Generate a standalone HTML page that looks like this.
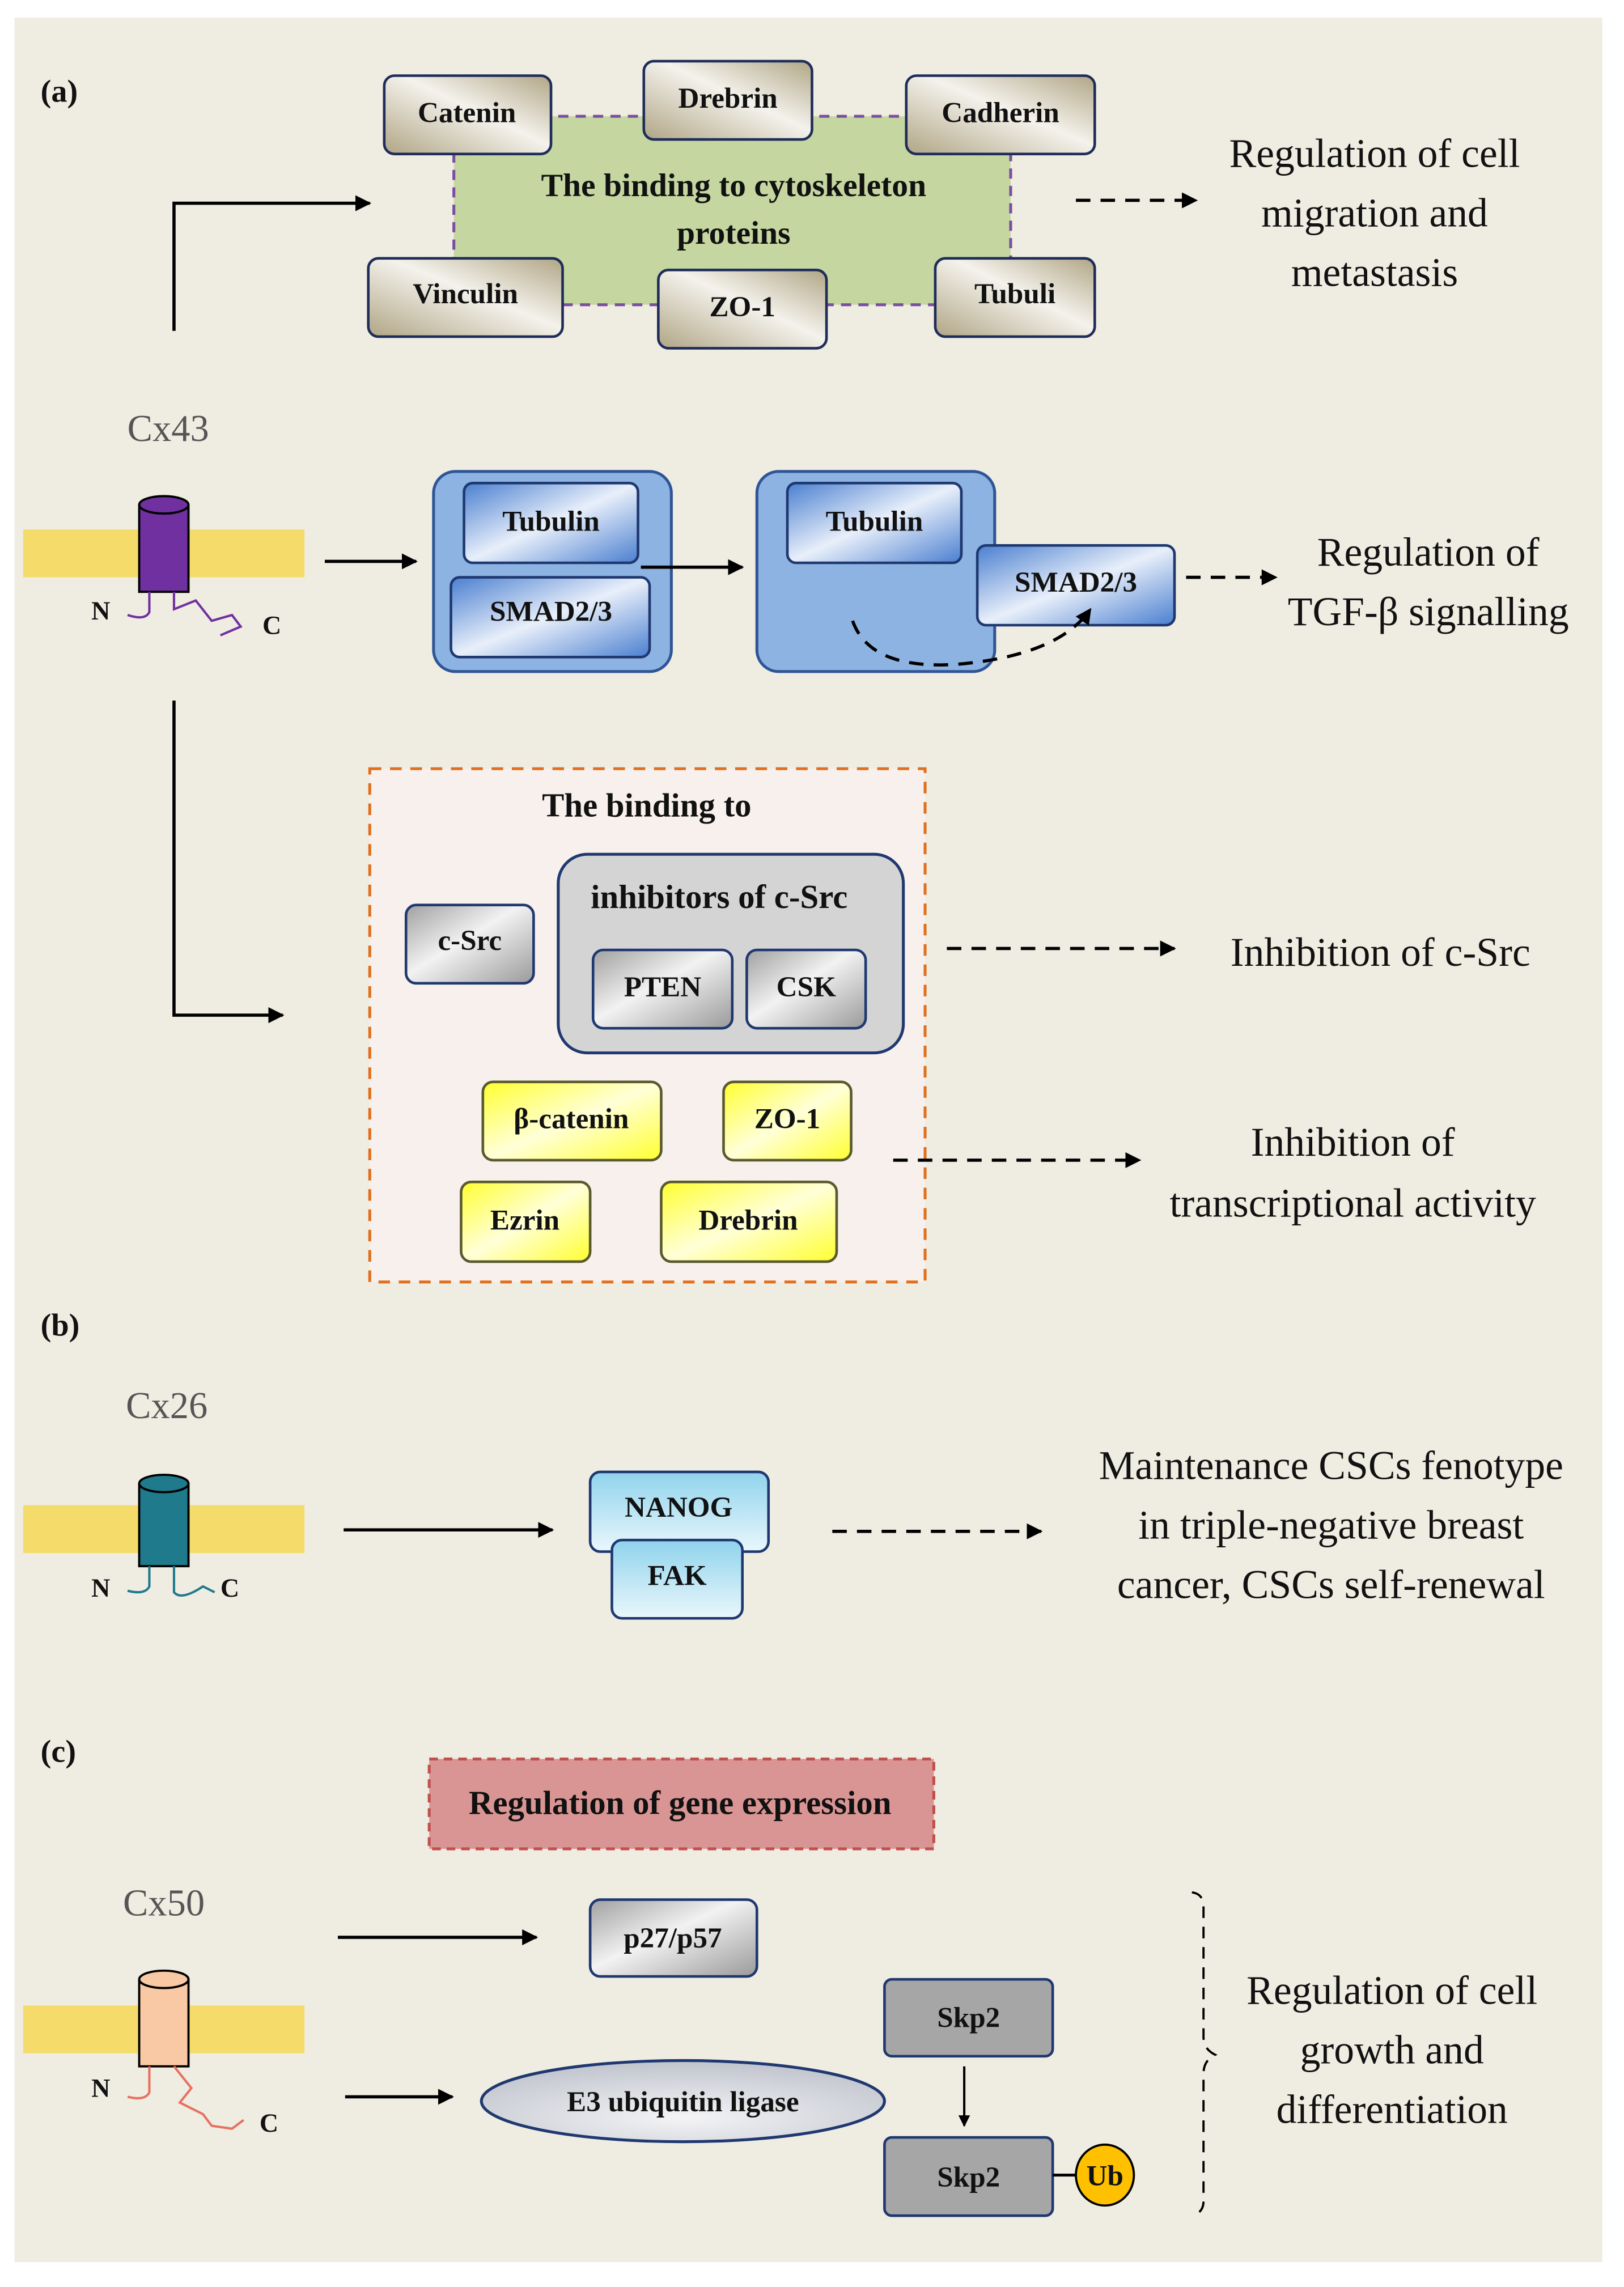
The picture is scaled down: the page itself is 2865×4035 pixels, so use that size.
<!DOCTYPE html>
<html><head><meta charset="utf-8"><style>html,body{margin:0;padding:0;background:#fff}svg{display:block}</style></head>
<body>
<svg xmlns="http://www.w3.org/2000/svg" width="2865" height="4035" viewBox="0 0 1120 1577" font-family="'Liberation Serif', serif">
<defs>
<linearGradient id="tan" x1="0" y1="1" x2="1" y2="0"><stop offset="0" stop-color="#b0a585"/><stop offset="0.55" stop-color="#f4f2ec"/><stop offset="1" stop-color="#b0a585"/></linearGradient>
<linearGradient id="blue" x1="0" y1="0" x2="1" y2="1"><stop offset="0" stop-color="#4a7fd0"/><stop offset="0.5" stop-color="#e8effa"/><stop offset="1" stop-color="#4a7fd0"/></linearGradient>
<linearGradient id="gray" x1="0" y1="0" x2="1" y2="1"><stop offset="0" stop-color="#a0a0a0"/><stop offset="0.45" stop-color="#f2f2f2"/><stop offset="1" stop-color="#9a9a9a"/></linearGradient>
<linearGradient id="yel" x1="0" y1="0" x2="1" y2="1"><stop offset="0" stop-color="#ffff30"/><stop offset="0.5" stop-color="#ffffd8"/><stop offset="1" stop-color="#ffff30"/></linearGradient>
<linearGradient id="cyan" x1="0" y1="0" x2="0" y2="1"><stop offset="0" stop-color="#8fd3ec"/><stop offset="1" stop-color="#eaf7fc"/></linearGradient>
<radialGradient id="ell" cx="0.5" cy="0.7" r="0.7"><stop offset="0" stop-color="#f4f4f6"/><stop offset="1" stop-color="#bfc3cc"/></radialGradient>
<marker id="ah" viewBox="0 0 10 10" refX="9" refY="5" markerWidth="5" markerHeight="5" orient="auto"><path d="M0,0 L10,5 L0,10 z" fill="#000"/></marker>
</defs>
<rect x="0" y="0" width="1120" height="1577" fill="#fff"/>
<rect x="10" y="12" width="1095" height="1548" fill="#efece2"/>

<g font-weight="bold" font-size="20" text-anchor="middle" fill="#111">
<text x="28" y="70" text-anchor="start" font-size="22">(a)</text>
<rect x="313" y="80" width="384" height="130" fill="#c5d6a0" stroke="#7a4fa0" stroke-width="2" stroke-dasharray="7,5"/>
<text x="506" y="135" font-size="22.5">The binding to cytoskeleton</text>
<text x="506" y="168" font-size="22.5">proteins</text>
<g stroke="#1f2d5a" stroke-width="1.8" fill="url(#tan)">
<rect x="265" y="52" width="115" height="54" rx="7"/>
<rect x="444" y="42" width="116" height="54" rx="7"/>
<rect x="625" y="52" width="130" height="54" rx="7"/>
<rect x="254" y="178" width="134" height="54" rx="7"/>
<rect x="454" y="186" width="116" height="54" rx="7"/>
<rect x="645" y="178" width="110" height="54" rx="7"/>
</g>
<text x="322" y="84">Catenin</text>
<text x="502" y="74">Drebrin</text>
<text x="690" y="84">Cadherin</text>
<text x="321" y="209">Vinculin</text>
<text x="512" y="218">ZO-1</text>
<text x="700" y="209">Tubuli</text>

<rect x="299" y="325" width="164" height="138" rx="15" fill="#8db3e2" stroke="#2f5597" stroke-width="2"/>
<rect x="522" y="325" width="164" height="138" rx="15" fill="#8db3e2" stroke="#2f5597" stroke-width="2"/>
<g stroke="#1f3870" stroke-width="1.8" fill="url(#blue)">
<rect x="320" y="333" width="120" height="55" rx="6"/>
<rect x="311" y="398" width="137" height="55" rx="6"/>
<rect x="543" y="333" width="120" height="55" rx="6"/>
<rect x="674" y="376" width="136" height="55" rx="6"/>
</g>
<text x="380" y="366">Tubulin</text>
<text x="380" y="428">SMAD2/3</text>
<text x="603" y="366">Tubulin</text>
<text x="742" y="408">SMAD2/3</text>

<rect x="255" y="530" width="383" height="354" fill="#f8f0ec" stroke="#e07020" stroke-width="2" stroke-dasharray="8,6"/>
<text x="446" y="563" font-size="23">The binding to</text>
<rect x="385" y="589" width="238" height="137" rx="20" fill="#d4d4d4" stroke="#1f3870" stroke-width="2"/>
<text x="496" y="626" font-size="23">inhibitors of c-Src</text>
<g stroke="#1f3870" stroke-width="1.8" fill="url(#gray)">
<rect x="280" y="624" width="88" height="54" rx="7"/>
<rect x="409" y="655" width="96" height="54" rx="7"/>
<rect x="515" y="655" width="82" height="54" rx="7"/>
</g>
<text x="324" y="655">c-Src</text>
<text x="457" y="687">PTEN</text>
<text x="556" y="687">CSK</text>
<g stroke="#5a5a30" stroke-width="1.8" fill="url(#yel)">
<rect x="333" y="746" width="123" height="54" rx="7"/>
<rect x="499" y="746" width="88" height="54" rx="7"/>
<rect x="318" y="815" width="89" height="55" rx="7"/>
<rect x="456" y="815" width="121" height="55" rx="7"/>
</g>
<text x="394" y="778">β-catenin</text>
<text x="543" y="778">ZO-1</text>
<text x="362" y="848">Ezrin</text>
<text x="516" y="848">Drebrin</text>

<text x="28" y="921" text-anchor="start" font-size="22">(b)</text>
<g stroke="#1f3870" stroke-width="1.8" fill="url(#cyan)">
<rect x="407" y="1015" width="123" height="55" rx="7"/>
<rect x="422" y="1062" width="90" height="54" rx="7"/>
</g>
<text x="468" y="1046">NANOG</text>
<text x="467" y="1093">FAK</text>

<text x="28" y="1215" text-anchor="start" font-size="22">(c)</text>
<rect x="296" y="1213" width="348" height="62" fill="#d99594" stroke="#c0504d" stroke-width="2" stroke-dasharray="6,4"/>
<text x="469" y="1251" font-size="23">Regulation of gene expression</text>
<rect x="407" y="1310" width="115" height="53" rx="7" fill="url(#gray)" stroke="#1f3870" stroke-width="1.8"/>
<text x="464" y="1343">p27/p57</text>
<ellipse cx="471" cy="1449" rx="139" ry="28" fill="url(#ell)" stroke="#1f3870" stroke-width="2"/>
<text x="471" y="1456" font-size="20">E3 ubiquitin ligase</text>
<rect x="610" y="1365" width="116" height="53" rx="5" fill="#a6a6a6" stroke="#1f3870" stroke-width="1.8"/>
<rect x="610" y="1474" width="116" height="54" rx="5" fill="#a6a6a6" stroke="#1f3870" stroke-width="1.8"/>
<text x="668" y="1398">Skp2</text>
<text x="668" y="1508">Skp2</text>
<line x1="726" y1="1500" x2="743" y2="1500" stroke="#000" stroke-width="2"/>
<ellipse cx="762" cy="1500" rx="20" ry="21" fill="#ffc000" stroke="#000" stroke-width="1.5"/>
<text x="762" y="1507">Ub</text>
</g>

<g font-size="28" text-anchor="middle" fill="#111">
<text x="948" y="115">Regulation of cell</text>
<text x="948" y="156">migration and</text>
<text x="948" y="197">metastasis</text>
<text x="985" y="390">Regulation of</text>
<text x="985" y="431">TGF-β signalling</text>
<text x="952" y="666">Inhibition of c-Src</text>
<text x="933" y="797">Inhibition of</text>
<text x="933" y="839">transcriptional activity</text>
<text x="918" y="1020">Maintenance CSCs fenotype</text>
<text x="918" y="1061">in triple-negative breast</text>
<text x="918" y="1102">cancer, CSCs self-renewal</text>
<text x="960" y="1382">Regulation of cell</text>
<text x="960" y="1423">growth and</text>
<text x="960" y="1464">differentiation</text>
</g>
<g font-size="26" fill="#555" text-anchor="middle">
<text x="116" y="304">Cx43</text>
<text x="115" y="978">Cx26</text>
<text x="113" y="1321">Cx50</text>
</g>

<rect x="16" y="365" width="194" height="33" fill="#f5dc6a"/>
<rect x="16" y="1038" width="194" height="33" fill="#f5dc6a"/>
<rect x="16" y="1383" width="194" height="33" fill="#f5dc6a"/>
<g stroke="#000" stroke-width="1.5">
<path d="M96,348 V408 H130 V348" fill="#7030a0"/><ellipse cx="113" cy="348" rx="17" ry="6" fill="#7030a0"/>
<path d="M96,1023 V1080 H130 V1023" fill="#1f7a8c"/><ellipse cx="113" cy="1023" rx="17" ry="6" fill="#1f7a8c"/>
<path d="M96,1365 V1425 H130 V1365" fill="#f9c9a5"/><ellipse cx="113" cy="1365" rx="17" ry="6" fill="#f9c9a5"/>
</g>
<g fill="none" stroke-width="1.6">
<path d="M103,408 V422 Q100,428 88,424" stroke="#7030a0"/>
<path d="M120,408 V420 L135,414 L146,428 L160,424 L166,432 L152,438" stroke="#7030a0"/>
<path d="M103,1080 V1094 Q100,1100 88,1097" stroke="#1f7a8c"/>
<path d="M120,1080 V1098 Q125,1104 140,1094 L148,1098" stroke="#1f7a8c"/>
<path d="M103,1425 V1443 Q100,1449 88,1446" stroke="#e87060"/>
<path d="M120,1425 L132,1440 L124,1450 L140,1458 L146,1466 L160,1468 L168,1462" stroke="#e87060"/>
</g>
<g font-weight="bold" font-size="18" fill="#111">
<text x="63" y="427">N</text><text x="181" y="437">C</text>
<text x="63" y="1101">N</text><text x="152" y="1101">C</text>
<text x="63" y="1446">N</text><text x="179" y="1470">C</text>
</g>

<g stroke="#000" stroke-width="2.2" fill="none">
<path d="M120,228 V140 H255" marker-end="url(#ah)"/>
<path d="M224,387 H287" marker-end="url(#ah)"/>
<path d="M442,391 H512" marker-end="url(#ah)"/>
<path d="M120,483 V700 H195" marker-end="url(#ah)"/>
<path d="M237,1055 H381" marker-end="url(#ah)"/>
<path d="M233,1336 H370" marker-end="url(#ah)"/>
<path d="M238,1446 H312" marker-end="url(#ah)"/>
<path d="M665,1425 V1466" stroke-width="1.6" marker-end="url(#ah)"/>
</g>
<g stroke="#000" stroke-width="2.2" fill="none" stroke-dasharray="10,7">
<path d="M742,138 H825" marker-end="url(#ah)"/>
<path d="M818,398 H880" marker-end="url(#ah)"/>
<path d="M653,654 H810" marker-end="url(#ah)"/>
<path d="M616,800 H786" marker-end="url(#ah)"/>
<path d="M574,1056 H718" marker-end="url(#ah)"/>
<path d="M588,428 Q600,462 660,458 Q730,452 752,420" marker-end="url(#ah)"/>
</g>
<path d="M822,1305 Q830,1306 830,1315 V1405 Q830,1413 838,1417 Q830,1421 830,1430 V1518 Q830,1526 822,1528" fill="none" stroke="#000" stroke-width="1.5" stroke-dasharray="8,6"/>
</svg>
</body></html>
